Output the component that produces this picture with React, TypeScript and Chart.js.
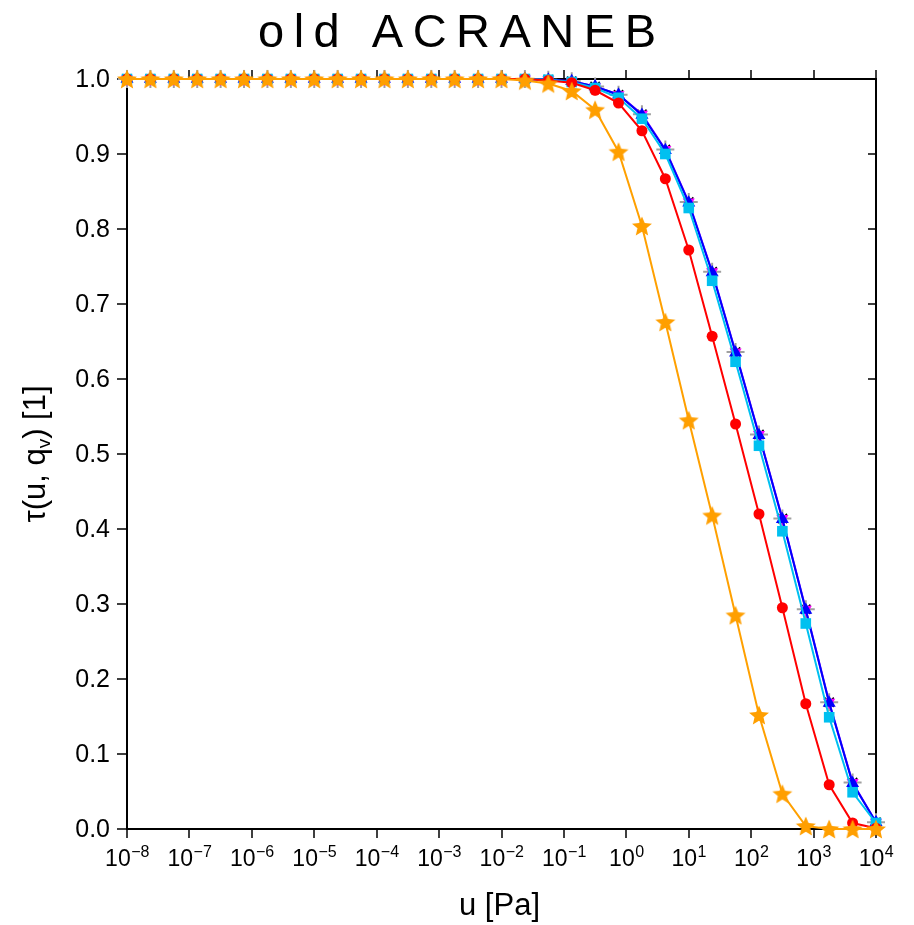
import React, { useEffect, useRef } from "react";
import { Chart, registerables } from "chart.js";

Chart.register(...registerables);

// Absorber amount u [Pa] (log-spaced sample points)
const pressure = [
  1e-8, 2.371e-8, 5.623e-8, 1.334e-7, 3.162e-7, 7.499e-7, 1.778e-6, 4.217e-6,
  1e-5, 2.371e-5, 5.623e-5, 1.334e-4, 3.162e-4, 7.499e-4, 1.778e-3, 4.217e-3,
  1e-2, 2.371e-2, 5.623e-2, 1.334e-1, 3.162e-1, 7.499e-1, 1.778, 4.217,
  10, 23.71, 56.23, 133.4, 316.2, 749.9, 1778, 4217, 10000,
];

const tauOrange = [
  1, 1, 1, 1, 1, 1, 1, 1, 1, 1, 1, 1, 1, 1, 1, 1, 1,
  0.998, 0.994, 0.984, 0.959, 0.903, 0.804, 0.676, 0.545, 0.418, 0.285, 0.152,
  0.047, 0.004, 0.0, 0.0, 0.0,
];
const tauRed = [
  1, 1, 1, 1, 1, 1, 1, 1, 1, 1, 1, 1, 1, 1, 1, 1, 1, 1,
  0.998, 0.995, 0.985, 0.968, 0.931, 0.867, 0.772, 0.657, 0.54, 0.42, 0.295,
  0.167, 0.059, 0.008, 0.001,
];
const tauCyan = [
  1, 1, 1, 1, 1, 1, 1, 1, 1, 1, 1, 1, 1, 1, 1, 1, 1, 1,
  0.999, 0.996, 0.988, 0.975, 0.947, 0.9, 0.828, 0.731, 0.623, 0.511, 0.397,
  0.274, 0.149, 0.049, 0.008,
];
const tauBlue = [
  1, 1, 1, 1, 1, 1, 1, 1, 1, 1, 1, 1, 1, 1, 1, 1, 1, 1,
  0.999, 0.997, 0.99, 0.979, 0.952, 0.905, 0.835, 0.742, 0.635, 0.525, 0.413,
  0.292, 0.168, 0.061, 0.009,
];
const tauMagenta = [
  1, 1, 1, 1, 1, 1, 1, 1, 1, 1, 1, 1, 1, 1, 1, 1, 1, 1,
  0.999, 0.997, 0.99, 0.979, 0.953, 0.906, 0.836, 0.743, 0.636, 0.526, 0.414,
  0.293, 0.169, 0.062, 0.009,
];
const tauBlack = [
  1, 1, 1, 1, 1, 1, 1, 1, 1, 1, 1, 1, 1, 1, 1, 1, 1, 1,
  0.999, 0.997, 0.99, 0.979, 0.953, 0.906, 0.836, 0.743, 0.636, 0.526, 0.414,
  0.293, 0.169, 0.062, 0.009,
];
const tauGray = [
  1, 1, 1, 1, 1, 1, 1, 1, 1, 1, 1, 1, 1, 1, 1, 1, 1, 1,
  0.999, 0.997, 0.99, 0.979, 0.953, 0.906, 0.836, 0.743, 0.636, 0.526, 0.414,
  0.293, 0.169, 0.062, 0.009,
];

const xTickExponents = [-8, -7, -6, -5, -4, -3, -2, -1, 0, 1, 2, 3, 4];
const yTickValues = [0, 0.1, 0.2, 0.3, 0.4, 0.5, 0.6, 0.7, 0.8, 0.9, 1.0];
const yTickLabels = ["0.0", "0.1", "0.2", "0.3", "0.4", "0.5", "0.6", "0.7", "0.8", "0.9", "1.0"];
const titleText = "old ACRANEB";
const xTitle = "u [Pa]";

const FONT = "'Liberation Sans', Arial, sans-serif";

function makeStar(color: string, size: number): HTMLCanvasElement {
  const c = document.createElement("canvas");
  c.width = size;
  c.height = size;
  const ctx = c.getContext("2d")!;
  const cx = size / 2;
  const cy = size / 2 + 0.9;
  const R = size / 2 - 0.5;
  const r = R * 0.45;
  ctx.beginPath();
  for (let k = 0; k < 10; k++) {
    const ang = -Math.PI / 2 + (k * Math.PI) / 5;
    const rad = k % 2 === 0 ? R : r;
    const px = cx + rad * Math.cos(ang);
    const py = cy + rad * Math.sin(ang);
    if (k === 0) ctx.moveTo(px, py);
    else ctx.lineTo(px, py);
  }
  ctx.closePath();
  ctx.fillStyle = color;
  ctx.fill();
  return c;
}

const framePlugin = {
  id: "frame",
  beforeDatasetsDraw(chart: any) {
    const { ctx, chartArea: a, scales } = chart;
    const xs = scales.x;
    const ys = scales.y;
    ctx.save();
    ctx.strokeStyle = "#000";
    ctx.lineWidth = 2;
    ctx.strokeRect(a.left, a.top, a.right - a.left, a.bottom - a.top);
    ctx.lineWidth = 1.5;
    ctx.beginPath();
    for (const e of xTickExponents) {
      const px = Math.round(xs.getPixelForValue(Math.pow(10, e)));
      ctx.moveTo(px, a.bottom);
      ctx.lineTo(px, a.bottom + 9);
      ctx.moveTo(px, a.top);
      ctx.lineTo(px, a.top - 9);
    }
    for (const v of yTickValues) {
      const py = Math.round(ys.getPixelForValue(v));
      ctx.moveTo(a.left - 10, py);
      ctx.lineTo(a.left, py);
      ctx.moveTo(a.right - 8, py);
      ctx.lineTo(a.right, py);
    }
    ctx.stroke();
    ctx.restore();
  },
  afterDraw(chart: any) {
    const { ctx, chartArea: a, scales } = chart;
    const xs = scales.x;
    const ys = scales.y;
    ctx.save();
    ctx.fillStyle = "#000";

    // y tick labels
    ctx.font = `25px ${FONT}`;
    ctx.textAlign = "right";
    ctx.textBaseline = "middle";
    yTickValues.forEach((v, i) => {
      ctx.fillText(yTickLabels[i], a.left - 17, ys.getPixelForValue(v) + 1);
    });

    // x tick labels 10^e
    ctx.textAlign = "left";
    ctx.textBaseline = "alphabetic";
    for (const e of xTickExponents) {
      const px = xs.getPixelForValue(Math.pow(10, e));
      const base = "10";
      const exp = e < 0 ? "\u2212" + Math.abs(e) : String(e);
      ctx.font = `23px ${FONT}`;
      const wb = ctx.measureText(base).width;
      ctx.font = `16px ${FONT}`;
      const we = ctx.measureText(exp).width;
      const start = px - (wb + we) / 2;
      ctx.font = `23px ${FONT}`;
      ctx.fillText(base, start, a.bottom + 37);
      ctx.font = `16px ${FONT}`;
      ctx.fillText(exp, start + wb + 0.5, a.bottom + 28);
    }

    // x axis title
    ctx.font = `31px ${FONT}`;
    ctx.textAlign = "center";
    ctx.fillText(xTitle, (a.left + a.right) / 2 - 2, a.bottom + 86);

    // y axis title (rotated) : tau(u, q_v) [1]
    const cy = (a.top + a.bottom) / 2;
    ctx.translate(37, cy);
    ctx.rotate(-Math.PI / 2);
    const parts: { t: string; size: number; dy: number }[] = [
      { t: "\u03c4(u, q", size: 31, dy: 0 },
      { t: "v", size: 19, dy: 5 },
      { t: ") [1]", size: 31, dy: 0 },
    ];
    let total = 0;
    for (const p of parts) {
      ctx.font = `${p.size}px ${FONT}`;
      total += ctx.measureText(p.t).width;
    }
    let xpos = -total / 2;
    ctx.textAlign = "left";
    for (const p of parts) {
      ctx.font = `${p.size}px ${FONT}`;
      ctx.fillText(p.t, xpos, p.dy);
      xpos += ctx.measureText(p.t).width;
    }
    ctx.restore();

    // title with letter spacing
    ctx.save();
    ctx.fillStyle = "#000";
    ctx.font = `47px ${FONT}`;
    ctx.textBaseline = "alphabetic";
    ctx.textAlign = "left";
    const spacing = 9.5;
    let tw = 0;
    for (const ch of titleText) tw += ctx.measureText(ch).width + spacing;
    tw -= spacing;
    let tx = 449 - tw / 2;
    for (const ch of titleText) {
      ctx.fillText(ch, tx, 39);
      tx += ctx.measureText(ch).width + spacing;
    }
    ctx.restore();
  },
};

export default function App() {
  const ref = useRef<HTMLCanvasElement | null>(null);

  useEffect(() => {
    if (!ref.current) return;
    const star = makeStar("#ff9f00", 22);
    const pts = (vals: number[]) => pressure.map((u, i) => ({ x: u, y: vals[i] }));
    const chart = new Chart(ref.current, {
      type: "line",
      data: {
        datasets: [
          {
            label: "orange",
            data: pts(tauOrange),
            borderColor: "#ffa000",
            backgroundColor: "#ff9f00",
            borderWidth: 2,
            pointStyle: star as any,
            pointRadius: 10,
            order: 1,
            clip: false as any,
          },
          {
            label: "red",
            data: pts(tauRed),
            borderColor: "#ff0000",
            backgroundColor: "#ff0000",
            borderWidth: 2,
            pointStyle: "circle",
            pointRadius: 5.5,
            pointBorderWidth: 0,
            order: 2,
            clip: false as any,
          },
          {
            label: "cyan",
            data: pts(tauCyan),
            borderColor: "#00c0f0",
            backgroundColor: "#00c0f0",
            borderWidth: 2,
            pointStyle: "rect",
            pointRadius: 7.5,
            pointBorderWidth: 0,
            order: 3,
            clip: false as any,
          },
          {
            label: "blue",
            data: pts(tauBlue),
            borderColor: "#0000ff",
            backgroundColor: "#0000ff",
            borderWidth: 2,
            pointStyle: "triangle",
            pointRadius: 7.5,
            pointBorderWidth: 0,
            order: 4,
            clip: false as any,
          },
          {
            label: "magenta",
            data: pts(tauMagenta),
            borderColor: "#8000ff",
            backgroundColor: "#ff00ff",
            borderWidth: 2,
            pointStyle: "triangle",
            pointRotation: 180,
            pointRadius: 7,
            pointBorderWidth: 0,
            order: 5,
            clip: false as any,
          },
          {
            label: "black",
            data: pts(tauBlack),
            borderColor: "#000000",
            backgroundColor: "#000000",
            showLine: false,
            pointStyle: "crossRot",
            pointRadius: 6.5,
            pointBorderWidth: 1.5,
            order: 6,
            clip: false as any,
          },
          {
            label: "gray",
            data: pts(tauGray),
            borderColor: "#a0a0a0",
            backgroundColor: "#a0a0a0",
            showLine: false,
            pointStyle: "cross",
            pointRadius: 9,
            pointBorderWidth: 2,
            order: 7,
            clip: false as any,
          },
        ],
      },
      options: {
        animation: false,
        responsive: false,
        maintainAspectRatio: false,
        devicePixelRatio: 1,
        layout: { padding: { top: 71, right: 30, left: 0, bottom: 0 } },
        plugins: {
          legend: { display: false },
          tooltip: { enabled: false },
          title: { display: false },
        },
        elements: { line: { tension: 0 } },
        scales: {
          x: {
            type: "logarithmic",
            min: 1e-8,
            max: 1e4,
            ticks: { display: false },
            grid: { display: false },
            border: { display: false },
            afterFit: (s: any) => {
              s.height = 96;
            },
          },
          y: {
            type: "linear",
            min: 0,
            max: 1,
            ticks: { display: false },
            grid: { display: false },
            border: { display: false },
            afterFit: (s: any) => {
              s.width = 119;
            },
          },
        },
      },
      plugins: [framePlugin],
    } as any);
    return () => chart.destroy();
  }, []);

  return (
    <div style={{ width: 898, height: 917 }}>
      <canvas ref={ref} width={898} height={917} style={{ display: "block" }} />
    </div>
  );
}
